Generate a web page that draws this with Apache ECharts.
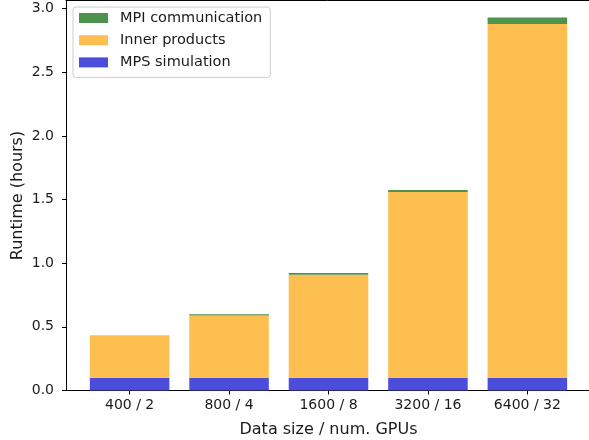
<!DOCTYPE html>
<html>
<head>
<meta charset="utf-8">
<script src="https://cdn.jsdelivr.net/npm/echarts@6/dist/echarts.min.js"></script>
<style>
html,body{margin:0;padding:0;background:#fff;}
#c{width:589px;height:440px;}
</style>
</head>
<body>
<div id="c"></div>
<script>
const categories = ['400 / 2', '800 / 4', '1600 / 8', '3200 / 16', '6400 / 32'];
const mpsSimulation = [0.10, 0.10, 0.10, 0.10, 0.10];
const innerProducts = [0.33, 0.49, 0.81, 1.46, 2.78];
const mpiCommunication = [0.003, 0.01, 0.014, 0.016, 0.05];
const yTicks = [0, 0.5, 1.0, 1.5, 2.0, 2.5, 3.0];

const FONT = 'DejaVu Sans';
const TXT = '#1a1a1a';
const YMAX = 3.064;

const chart = echarts.init(document.getElementById('c'), null, {renderer: 'canvas'});
chart.setOption({
  animation: false,
  backgroundColor: '#fff',
  grid: [
    {left: 79.9, right: 11.9, top: 0.5, bottom: 49.5, containLabel: false, outerBoundsMode: 'none'},
    {left: 66, right: -2, top: 0.5, bottom: 49.5, containLabel: false, outerBoundsMode: 'none'}
  ],
  legend: {
    orient: 'vertical', left: 73, top: 7,
    data: ['MPI communication', 'Inner products', 'MPS simulation'],
    icon: 'rect', itemWidth: 29, itemHeight: 10, itemGap: 6.2,
    padding: [3, 8, 7, 6],
    borderColor: '#cccccc', borderWidth: 1, borderRadius: 3,
    backgroundColor: 'rgba(255,255,255,0.8)',
    textStyle: {fontFamily: FONT, fontSize: 14.5, color: TXT, lineHeight: 16, padding: [0, 0, 0, 7]}
  },
  xAxis: [{
    gridIndex: 0, type: 'category', data: categories, boundaryGap: true,
    name: 'Data size / num. GPUs', nameLocation: 'middle', nameGap: 31.5, nameMoveOverlap: false,
    nameTextStyle: {fontFamily: FONT, fontSize: 16, color: TXT},
    axisLine: {show: false},
    axisTick: {show: true, alignWithLabel: true, length: 4, lineStyle: {color: '#000'}},
    axisLabel: {margin: 8, fontFamily: FONT, fontSize: 14, color: TXT},
    splitLine: {show: false}
  }, {
    gridIndex: 1, type: 'value', min: 0, max: 1, position: 'bottom',
    axisLine: {show: true, onZero: false, lineStyle: {color: '#000', width: 1}},
    axisTick: {show: false}, axisLabel: {show: false}, splitLine: {show: false}
  }, {
    gridIndex: 1, type: 'value', min: 0, max: 1, position: 'top',
    axisLine: {show: true, onZero: false, lineStyle: {color: '#000', width: 1}},
    axisTick: {show: false}, axisLabel: {show: false}, splitLine: {show: false}
  }],
  yAxis: [{
    gridIndex: 0, type: 'value', min: 0, max: YMAX, offset: 13.9,
    name: 'Runtime (hours)', nameLocation: 'middle', nameGap: 40, nameMoveOverlap: false,
    nameTextStyle: {fontFamily: FONT, fontSize: 16, color: TXT},
    axisLine: {show: true, onZero: false, lineStyle: {color: '#000', width: 1}},
    axisTick: {show: true, length: 4, customValues: yTicks, lineStyle: {color: '#000'}},
    axisLabel: {customValues: yTicks, margin: 12, fontFamily: FONT, fontSize: 14, color: TXT,
      formatter: v => v.toFixed(1)},
    splitLine: {show: false}
  }, {
    gridIndex: 1, type: 'value', min: 0, max: YMAX, show: false
  }],
  series: [
    {name: 'MPS simulation', type: 'bar', stack: 's', barWidth: '80%', data: mpsSimulation,
      xAxisIndex: 0, yAxisIndex: 0, itemStyle: {color: '#4d4ddc'}},
    {name: 'Inner products', type: 'bar', stack: 's', barWidth: '80%', data: innerProducts,
      xAxisIndex: 0, yAxisIndex: 0, itemStyle: {color: '#fdbf4f'}},
    {name: 'MPI communication', type: 'bar', stack: 's', barWidth: '80%', data: mpiCommunication,
      xAxisIndex: 0, yAxisIndex: 0, itemStyle: {color: '#4d934d'}}
  ]
});
</script>
</body>
</html>
